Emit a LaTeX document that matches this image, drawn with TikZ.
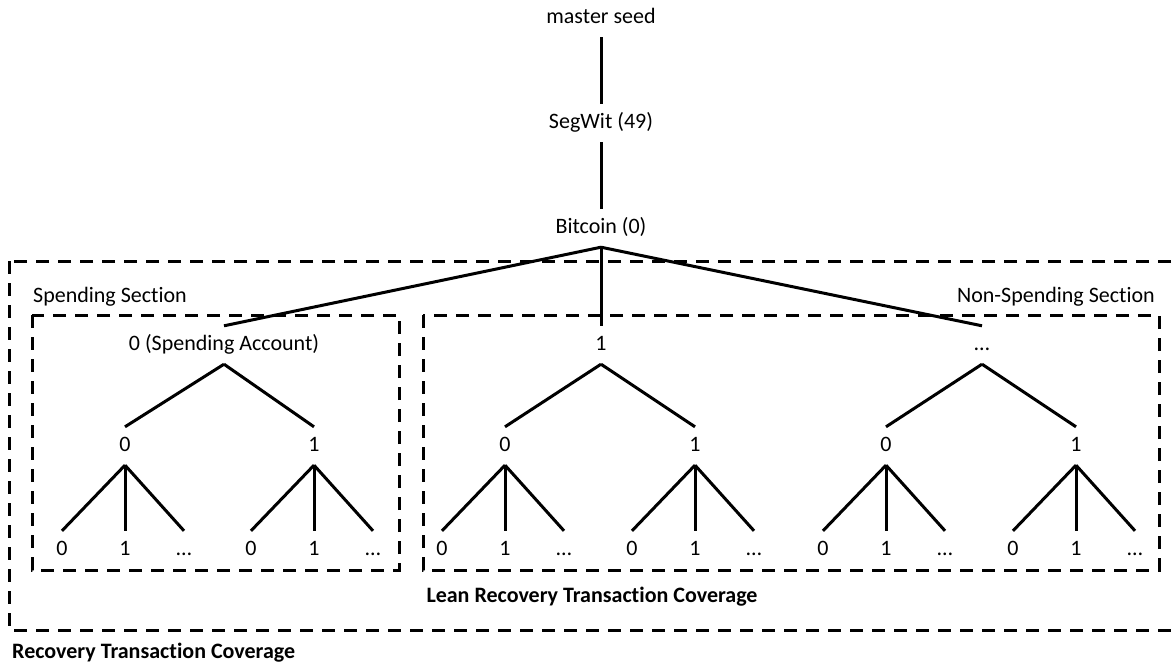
\documentclass[tikz,border=0pt]{standalone}
\usepackage{fontspec}
\setmainfont[Ligatures=NoCommon]{Carlito}
\begin{document}
\begin{tikzpicture}[x=1pt,y=-1pt,
  lbl/.style={font=\fontsize{22}{25}\selectfont, inner sep=0pt, text height=14pt, text depth=4pt, minimum height=38pt},
  boldlbl/.style={font=\fontsize{22}{25}\selectfont\bfseries, inner sep=0pt},
  edge/.style={line width=3pt},
  frame/.style={line width=3pt, dash pattern=on 13pt off 9pt}]
\clip (0,0) rectangle (1175,664);
\fill[white] (0,0) rectangle (1175,664);

% dashed section frames
\draw[frame] (9,261) rectangle (1200,630);
\draw[frame] (32,315) rectangle (399,570);
\draw[frame] (423,315) rectangle (1159,570);

\node[boldlbl, anchor=west] (rtc) at (12,653) {Recovery Transaction Coverage};
\node[boldlbl] (lrtc) at (592,597) {Lean Recovery Transaction Coverage};
\node[lbl, anchor=west] (spend) at (33,297) {Spending Section};
\node[lbl, anchor=east] (nonspend) at (1155,297) {Non-Spending Section};

% upper path of the derivation tree
\node[lbl] (seed) at (601,18) {master seed};
\node[lbl] (segwit) at (601,123) {SegWit (49)};
\node[lbl] (btc) at (601,228) {Bitcoin (0)};
\draw[edge] (seed.south) -- (segwit.north);
\draw[edge] (segwit.south) -- (btc.north);

% accounts
\node[lbl] (acc0) at (224,345) {0 (Spending Account)};
\node[lbl] (acc1) at (601,345) {1};
\node[lbl] (accn) at (982,345) {\ldots};
\foreach \a in {acc0,acc1,accn}
  \draw[edge] (btc.south) -- (\a.north);

% chains (0 and 1) of each account, with their address indices
\foreach \a/\x/\y in {acc0/125/314, acc1/505/695, accn/886/1076} {
  \node[lbl] (\a-c0) at (\x,446) {0};
  \node[lbl] (\a-c1) at (\y,446) {1};
  \draw[edge] (\a.south) -- (\a-c0.north);
  \draw[edge] (\a.south) -- (\a-c1.north);
  \foreach \c/\cx in {c0/\x, c1/\y} {
    \node[lbl] (\a-\c-i0) at (\cx-63,550) {0};
    \node[lbl] (\a-\c-i1) at (\cx,550) {1};
    \node[lbl] (\a-\c-in) at (\cx+59,550) {\ldots};
    \draw[edge] (\a-\c.south) -- (\a-\c-i0.north);
    \draw[edge] (\a-\c.south) -- (\a-\c-i1.north);
    \draw[edge] (\a-\c.south) -- (\a-\c-in.north);
  }
}
\end{tikzpicture}
\end{document}
